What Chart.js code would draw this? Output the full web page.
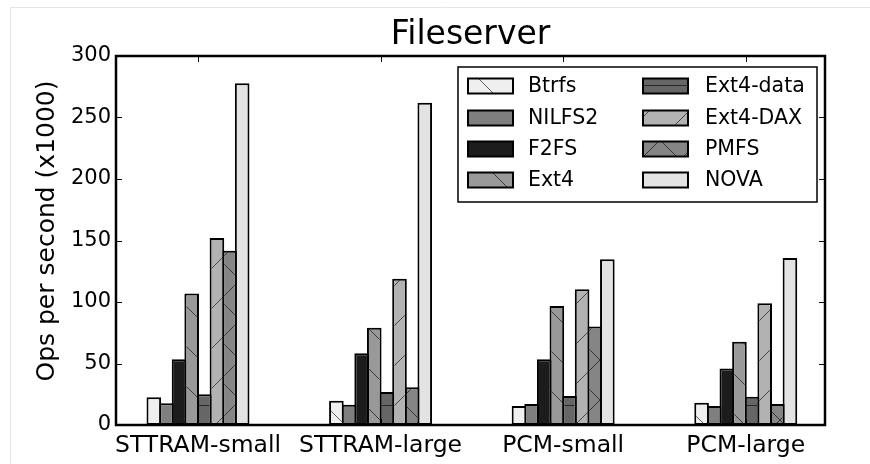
<!DOCTYPE html>
<html>
<head>
<meta charset="utf-8">
<script src="https://cdn.jsdelivr.net/npm/chart.js@4.4.1/dist/chart.umd.min.js"></script>
<style>
  html, body { margin: 0; padding: 0; background: #fff; }
  #wrap { width: 870px; height: 464px; position: relative; }
</style>
</head>
<body>
<div id="wrap"><canvas id="c" width="870" height="464"></canvas></div>
<script>
// ---- data ----
const categories = ['STTRAM-small', 'STTRAM-large', 'PCM-small', 'PCM-large'];
const seriesNames = ['Btrfs', 'NILFS2', 'F2FS', 'Ext4', 'Ext4-data', 'Ext4-DAX', 'PMFS', 'NOVA'];
const btrfs    = [22.5, 19.8, 15.4, 18.1];
const nilfs2   = [17.6, 16.5, 17.0, 15.4];
const f2fs     = [53.4, 58.3, 53.4, 46.0];
const ext4     = [107.0, 79.1, 96.7, 67.7];
const ext4data = [25.0, 26.8, 23.6, 23.0];
const ext4dax  = [152.0, 119.0, 110.3, 99.0];
const pmfs     = [141.7, 30.6, 80.0, 17.0];
const nova     = [277.8, 262.0, 134.7, 135.8];
const yTickValues = [0, 50, 100, 150, 200, 250, 300];
const chartTitle = 'Fileserver';
const yTitle = 'Ops per second (x1000)';

const seriesValues = [btrfs, nilfs2, f2fs, ext4, ext4data, ext4dax, pmfs, nova];
const fills = ['#efefef', '#7f7f7f', '#1c1c1c', '#999999', '#666666', '#b2b2b2', '#858585', '#e3e3e3'];
const hatches = ['\\', '', '', '\\', '-', '/', 'x', ''];

const FONT = "'DejaVu Sans', 'Liberation Sans', sans-serif";
const canvas = document.getElementById('c');
const mainCtx = canvas.getContext('2d');

function makeFill(bg, kind) {
  if (!kind) return bg;
  const P = 40;
  const t = document.createElement('canvas');
  t.width = P; t.height = P;
  const g = t.getContext('2d');
  g.fillStyle = bg; g.fillRect(0, 0, P, P);
  g.strokeStyle = 'rgba(0,0,0,0.6)';
  g.lineWidth = 1;
  g.beginPath();
  if (kind === '\\' || kind === 'x') {
    g.moveTo(-2, -2); g.lineTo(P + 2, P + 2);
  }
  if (kind === '/' || kind === 'x') {
    g.moveTo(-2, P + 2); g.lineTo(P + 2, -2);
  }
  if (kind === '-') {
    g.moveTo(0, 5.5); g.lineTo(P, 5.5);
  }
  g.stroke();
  return mainCtx.createPattern(t, 'repeat');
}

const datasets = seriesNames.map((name, i) => ({
  label: name,
  data: seriesValues[i].map((v, k) => ({ x: k, y: v })),
  backgroundColor: makeFill(fills[i], hatches[i]),
  borderColor: '#000',
  borderWidth: 2,
  borderSkipped: false,
  inflateAmount: 0,
  categoryPercentage: 0.553,
  barPercentage: 1.158
}));

const framePlugin = {
  id: 'frame',
  beforeDraw(chart) {
    const c = chart.ctx;
    c.save();
    c.fillStyle = '#fff';
    c.fillRect(0, 0, chart.width, chart.height);
    c.strokeStyle = '#e6e6e6';
    c.lineWidth = 1;
    c.beginPath();
    c.moveTo(10.5, 464); c.lineTo(10.5, 7.5); c.lineTo(870, 7.5);
    c.stroke();
    c.restore();
  },
  afterDatasetsDraw(chart) {
    const c = chart.ctx;
    const a = chart.chartArea;
    const xs = chart.scales.x, ys = chart.scales.y;
    c.save();
    c.strokeStyle = '#000';
    c.lineWidth = 1;
    c.beginPath();
    yTickValues.forEach(v => {
      const py = Math.round(ys.getPixelForValue(v)) + 0.5;
      c.moveTo(a.left, py); c.lineTo(a.left + 6, py);
      c.moveTo(a.right, py); c.lineTo(a.right - 6, py);
    });
    categories.forEach((_, k) => {
      const px = Math.round(xs.getPixelForValue(k)) + 0.5;
      c.moveTo(px, a.top); c.lineTo(px, a.top + 6);
      c.moveTo(px, a.bottom); c.lineTo(px, a.bottom - 6);
    });
    c.stroke();
    c.lineWidth = 2.5;
    c.strokeRect(a.left, a.top, a.right - a.left, a.bottom - a.top);
    c.restore();
  },
  afterDraw(chart) {
    const c = chart.ctx;
    c.save();
    // y axis title, centred like the reference
    c.save();
    c.translate(47, 231);
    c.rotate(-Math.PI / 2);
    c.font = '25px ' + FONT;
    c.fillStyle = '#000';
    c.textAlign = 'center';
    c.textBaseline = 'middle';
    c.fillText(yTitle, 0, 0);
    c.restore();
    // legend box
    const bx = 458, by = 67, bw = 359, bh = 135;
    c.fillStyle = '#fff';
    c.fillRect(bx, by, bw, bh);
    c.strokeStyle = '#000';
    c.lineWidth = 1.5;
    c.strokeRect(bx, by, bw, bh);
    const rows = [86, 118, 149, 180];
    const colSw = [468, 643];
    const colTx = [528, 705];
    c.font = '20.5px ' + FONT;
    c.textBaseline = 'middle';
    c.textAlign = 'left';
    chart.data.datasets.forEach((ds, i) => {
      const col = Math.floor(i / 4), row = i % 4;
      const sx = colSw[col], sy = rows[row] - 7.5;
      c.fillStyle = ds.backgroundColor;
      c.fillRect(sx, sy, 45, 15);
      c.lineWidth = 2;
      c.strokeStyle = '#000';
      c.strokeRect(sx, sy, 45, 15);
      c.fillStyle = '#000';
      c.fillText(ds.label, colTx[col], rows[row] + 1);
    });
    c.restore();
  }
};

new Chart(canvas, {
  type: 'bar',
  data: { datasets },
  options: {
    responsive: false,
    animation: false,
    devicePixelRatio: 1,
    layout: { padding: { left: 10, right: 45, top: 0, bottom: 0 } },
    plugins: {
      legend: { display: false },
      tooltip: { enabled: false },
      title: {
        display: true,
        text: chartTitle,
        fullSize: false,
        color: '#000',
        font: { family: FONT, size: 33, weight: 'normal', lineHeight: 1.2 },
        padding: { top: 16, bottom: 0.4 }
      }
    },
    scales: {
      x: {
        type: 'linear',
        offset: false,
        min: -0.449,
        max: 3.434,
        grid: { display: false, drawTicks: false, offset: false },
        border: { display: false },
        afterBuildTicks(s) {
          s.ticks = categories.map((_, k) => ({ value: k }));
        },
        ticks: {
          color: '#000',
          padding: 7,
          font: { family: FONT, size: 23.5 },
          autoSkip: false,
          maxRotation: 0,
          callback: (v) => categories[v] !== undefined ? categories[v] : ''
        },
        afterFit(s) { s.height = 39; }
      },
      y: {
        min: 0,
        max: 300,
        grid: { display: false, drawTicks: false },
        border: { display: false },
        afterBuildTicks(s) {
          s.ticks = yTickValues.map(v => ({ value: v }));
        },
        ticks: {
          color: '#000',
          padding: 5,
          font: { family: FONT, size: 21 }
        },
        afterFit(s) { s.width = 106; }
      }
    }
  },
  plugins: [framePlugin]
});
</script>
</body>
</html>
